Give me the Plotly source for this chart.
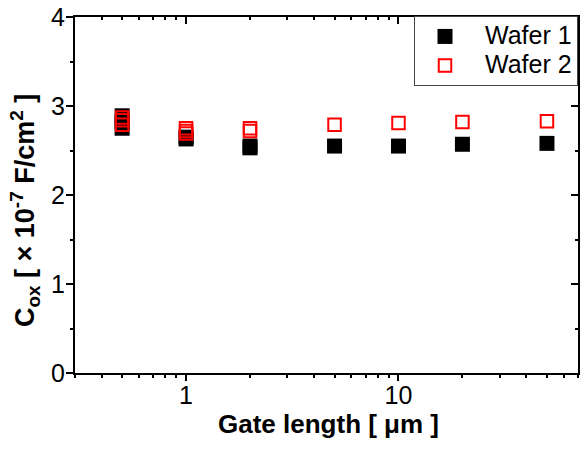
import math
import plotly.graph_objects as go

# Oxide capacitance per unit area vs. gate length for two wafers
wafer1_length = [0.5, 0.5, 0.5, 1, 1, 2, 2, 5, 10, 20, 50]
wafer1_cox = [2.89, 2.82, 2.75, 2.65, 2.63, 2.55, 2.53, 2.55, 2.55, 2.57, 2.58]

wafer2_length = [0.5, 0.5, 0.5, 1, 1, 1, 2, 2, 5, 10, 20, 50]
wafer2_cox = [2.87, 2.84, 2.79, 2.75, 2.72, 2.69, 2.75, 2.72, 2.79, 2.81, 2.82, 2.83]

x_major = [1, 10]
x_minor = [0.3, 0.4, 0.5, 0.6, 0.7, 0.8, 0.9,
           2, 3, 4, 5, 6, 7, 8, 9,
           20, 30, 40, 50, 60, 70]
x_range = [math.log10(0.3), math.log10(70)]
y_major = [0, 1, 2, 3, 4]
y_range = [0, 4]

x_title = "Gate length [ μm ]"
y_title = "C<sub>ox</sub> [ × 10<sup>-7</sup> F/cm<sup>2</sup> ]"

FONT = "Arial, Liberation Sans, Helvetica, sans-serif"


def legend_label(text):
    # larger glyphs than the legend's row spacing font, with a small lead-in gap
    return '<span style="font-size:25px">\u2009\u2009' + text + "</span>"


fig = go.Figure()
fig.add_trace(go.Scatter(
    x=wafer1_length, y=wafer1_cox, mode="markers", name=legend_label("Wafer 1"),
    marker=dict(symbol="square", size=15, color="black", line=dict(width=0)),
))
fig.add_trace(go.Scatter(
    x=wafer2_length, y=wafer2_cox, mode="markers", name=legend_label("Wafer 2"),
    marker=dict(symbol="square-open", size=12.5, color="#ff0000",
                line=dict(width=2, color="#ff0000")),
))
# empty trace so the mirrored top/right axes get drawn
fig.add_trace(go.Scatter(x=[], y=[], xaxis="x2", yaxis="y2",
                         showlegend=False, hoverinfo="skip"))

axis_common = dict(showline=True, linecolor="black", linewidth=2,
                   showgrid=False, zeroline=False,
                   tickcolor="black", tickwidth=2)

fig.update_layout(
    width=583, height=452,
    margin=dict(l=75, r=3, t=14, b=79),
    paper_bgcolor="white", plot_bgcolor="white",
    font=dict(family=FONT, size=25, color="black"),
    showlegend=True,
    legend=dict(
        x=1, xanchor="right", y=1.003, yanchor="top",
        bgcolor="white", bordercolor="#444444", borderwidth=1,
        font=dict(family=FONT, size=20, color="black"),
        itemwidth=50, tracegroupgap=0,
    ),
    xaxis=dict(
        type="log", range=x_range, tickmode="array", tickvals=x_major,
        ticktext=[str(v) for v in x_major], mirror=True,
        ticks="outside", ticklen=6, ticklabelstandoff=-7,
        ticklabeloverflow="allow",
        minor=dict(tickmode="array", tickvals=x_minor, ticks="outside",
                   ticklen=3, tickwidth=2, tickcolor="black", showgrid=False),
        **axis_common,
    ),
    xaxis2=dict(
        type="log", range=x_range, overlaying="x", side="top", anchor="y2",
        tickmode="array", tickvals=x_major, showticklabels=False,
        ticks="inside", ticklen=7,
        minor=dict(tickmode="array", tickvals=x_minor, ticks="inside",
                   ticklen=3, tickwidth=2, tickcolor="black", showgrid=False),
        **axis_common,
    ),
    yaxis=dict(
        range=y_range, tickmode="array", tickvals=y_major, mirror=True,
        ticks="outside", ticklen=7, ticklabelstandoff=-4,
        ticklabeloverflow="allow",
        minor=dict(dtick=0.5, ticks="outside", ticklen=3, tickwidth=2,
                   tickcolor="black", showgrid=False),
        **axis_common,
    ),
    yaxis2=dict(
        range=y_range, overlaying="y", side="right", anchor="x2",
        tickmode="array", tickvals=y_major, showticklabels=False,
        ticks="inside", ticklen=7,
        minor=dict(dtick=0.5, ticks="inside", ticklen=3, tickwidth=2,
                   tickcolor="black", showgrid=False),
        **axis_common,
    ),
    annotations=[
        dict(text=x_title, xref="paper", yref="paper", x=0.5, y=0,
             xanchor="center", yanchor="middle", xshift=2, yshift=-51,
             showarrow=False,
             font=dict(family=FONT, size=26, weight="bold", color="black")),
        dict(text=y_title, xref="paper", yref="paper", x=0, y=0.5,
             xanchor="center", yanchor="middle", xshift=-50, yshift=-16,
             textangle=-90, showarrow=False,
             font=dict(family=FONT, size=27, weight="bold", color="black")),
    ],
)

fig.write_html("out.html")
